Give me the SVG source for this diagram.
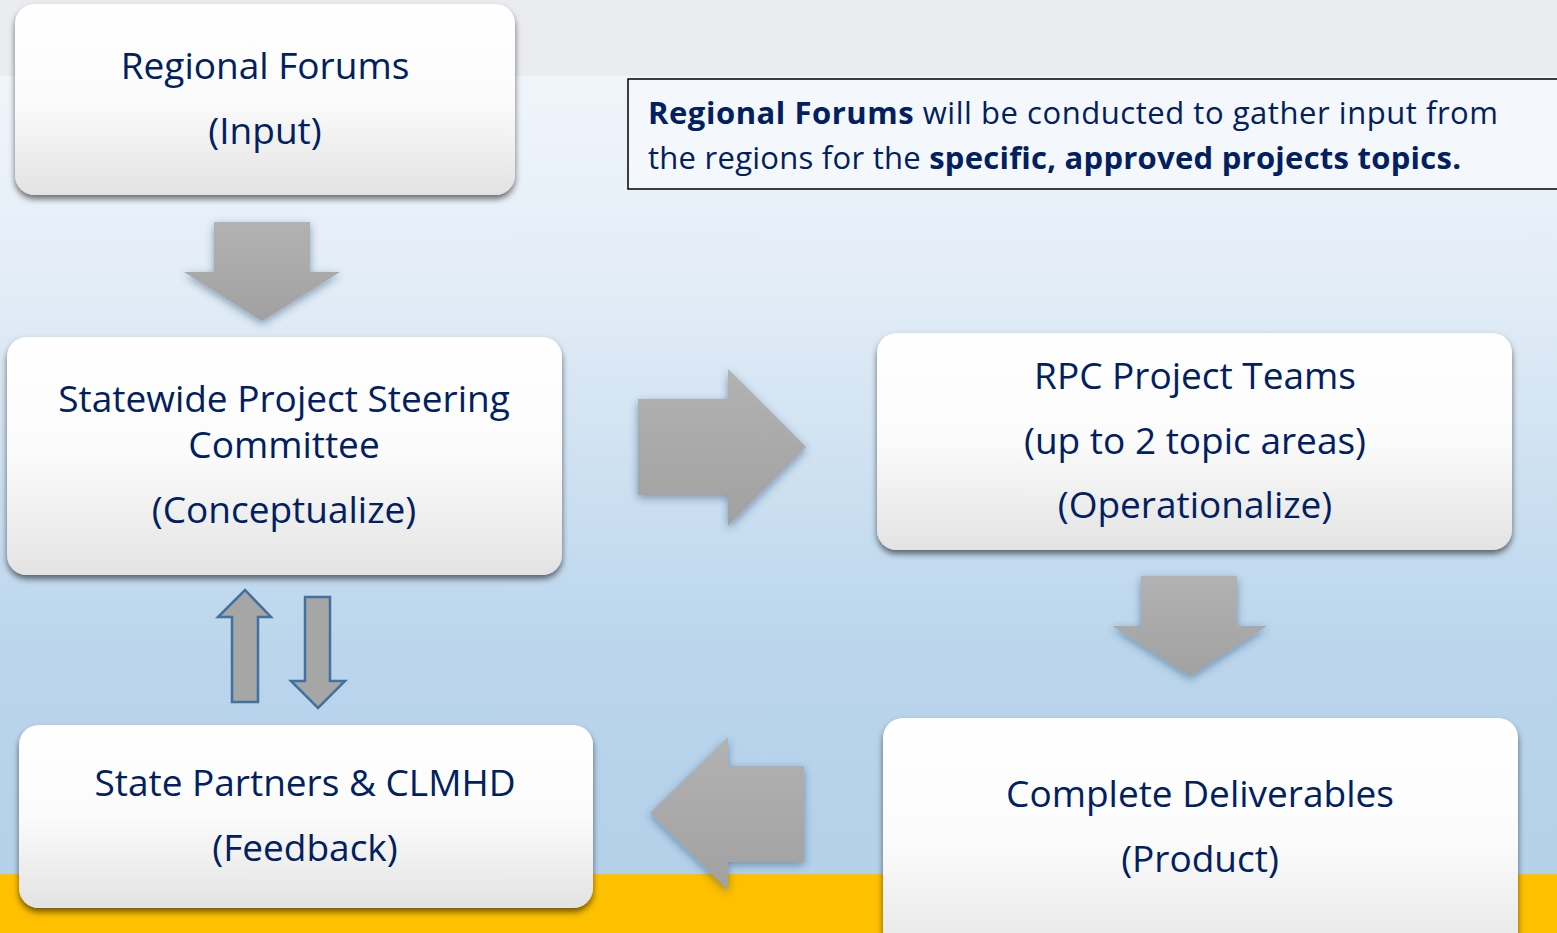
<svg xmlns="http://www.w3.org/2000/svg" width="1557" height="933" viewBox="0 0 1557 933">
<defs>
<linearGradient id="bg" x1="0" y1="0" x2="0" y2="1">
<stop offset="0" stop-color="#f5f8fc"/>
<stop offset="0.3" stop-color="#e3edf7"/>
<stop offset="0.7" stop-color="#bad5ec"/>
<stop offset="1" stop-color="#b3d0ea"/>
</linearGradient>
<linearGradient id="box" x1="0" y1="0" x2="0" y2="1">
<stop offset="0" stop-color="#ffffff"/>
<stop offset="0.5" stop-color="#fbfbfb"/>
<stop offset="1" stop-color="#e3e3e3"/>
</linearGradient>
<linearGradient id="arr" x1="0" y1="0" x2="0" y2="1">
<stop offset="0" stop-color="#b2b2b2"/>
<stop offset="1" stop-color="#a1a1a1"/>
</linearGradient>
<filter id="sh" x="-10%" y="-10%" width="120%" height="130%">
<feDropShadow dx="0" dy="4" stdDeviation="3" flood-color="#000" flood-opacity="0.55"/>
</filter>
<filter id="ash" x="-20%" y="-20%" width="140%" height="140%">
<feDropShadow dx="0" dy="3" stdDeviation="4" flood-color="#1f3d63" flood-opacity="0.45"/>
</filter>
<style>
.t{font-family:"Open Sans","Liberation Sans",sans-serif;fill:#002060;text-anchor:middle;font-size:37px}
.n{font-family:"Open Sans","Liberation Sans",sans-serif;fill:#002060;font-size:31px}
.b{font-weight:bold}
.bx{fill:url(#box);filter:url(#sh)}
.ar{fill:url(#arr);filter:url(#ash)}
.sa{fill:#a6a6a6;stroke:#41719c;stroke-width:2.5}
</style>
</defs>
<rect x="0" y="0" width="1557" height="933" fill="url(#bg)"/>
<rect x="0" y="0" width="1557" height="76" fill="#ebecef"/>
<rect x="0" y="874" width="1557" height="59" fill="#ffc000"/>

<g id="connectors">
<polygon class="ar" points="214,222 310,222 310,272 340,272 262,321 184,272 214,272"/>
<polygon class="ar" points="638,399 728,399 728,369 806,447 728,526 728,495 638,495"/>
<polygon class="ar" points="1141,576 1237,576 1237,626 1267,626 1190,676 1112,626 1141,626"/>
<polygon class="ar" points="804,766 728,766 728,737 650,813 728,890 728,862 804,862"/>
<polygon class="sa" points="232,702 258,702 258,617 271,617 245,590 218,617 232,617"/>
<polygon class="sa" points="305,597 330,597 330,681 345,681 318,708 291,681 305,681"/>
</g>

<g id="note">
<rect x="628" y="79" width="940" height="110" fill="#f4f7fb" stroke="#000" stroke-width="1.5"/>
<text class="n" x="648" y="124" textLength="850"><tspan class="b">Regional Forums</tspan> will be conducted to gather input from</text>
<text class="n" x="648" y="169" textLength="813">the regions for the <tspan class="b">specific, approved projects topics.</tspan></text>
</g>

<g id="regional-forums">
<rect class="bx" x="15" y="4" width="500" height="191" rx="20"/>
<text class="t" x="265" y="79">Regional Forums</text>
<text class="t" x="265" y="144">(Input)</text>
</g>

<g id="steering">
<rect class="bx" x="7" y="337" width="555" height="238" rx="20"/>
<text class="t" x="284" y="412">Statewide Project Steering</text>
<text class="t" x="284" y="458">Committee</text>
<text class="t" x="284" y="523">(Conceptualize)</text>
</g>

<g id="rpc">
<rect class="bx" x="877" y="333" width="635" height="217" rx="20"/>
<text class="t" x="1195" y="389">RPC Project Teams</text>
<text class="t" x="1195" y="454">(up to 2 topic areas)</text>
<text class="t" x="1195" y="518">(Operationalize)</text>
</g>

<g id="state-partners">
<rect class="bx" x="19" y="725" width="574" height="183" rx="20"/>
<text class="t" x="305" y="796">State Partners &amp; CLMHD</text>
<text class="t" x="305" y="861">(Feedback)</text>
</g>

<g id="deliverables">
<rect class="bx" x="883" y="718" width="635" height="250" rx="20"/>
<text class="t" x="1200" y="807">Complete Deliverables</text>
<text class="t" x="1200" y="872">(Product)</text>
</g>
</svg>
